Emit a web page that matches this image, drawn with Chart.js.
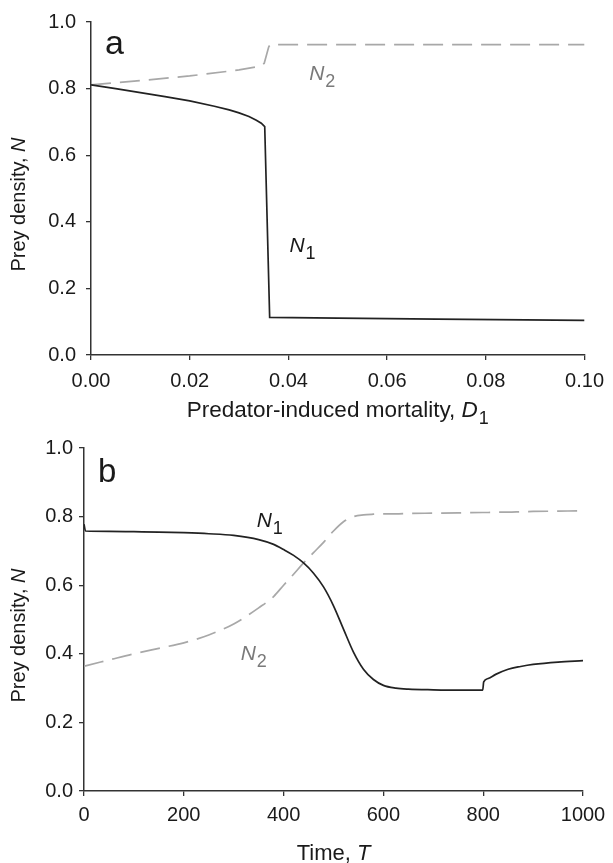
<!DOCTYPE html>
<html>
<head>
<meta charset="utf-8">
<script src="https://cdn.jsdelivr.net/npm/chart.js"></script>
<style>
    html, body { margin: 0; padding: 0; background: #fff; }
    #wrap { position: relative; width: 613px; height: 863px; }
    canvas { position: absolute; left: 0; }
    #chartA { top: 0; }
    #chartB { top: 430px; }
</style>
</head>
<body>
<div id="wrap">
    <canvas id="chartA" width="613" height="430"></canvas>
    <canvas id="chartB" width="613" height="433"></canvas>
</div>
<script>
// Panel a: prey density against predator-induced mortality D1
const mortalityN1 = [0, 0.005, 0.01, 0.015, 0.02, 0.025, 0.028, 0.03, 0.032, 0.0335, 0.0345, 0.0352, 0.0362, 0.05, 0.07, 0.1];
const preyN1a     = [0.811, 0.800, 0.788, 0.776, 0.763, 0.747, 0.736, 0.727, 0.716, 0.705, 0.696, 0.686, 0.113, 0.111, 0.108, 0.104];
const mortalityN2 = [0, 0.01, 0.02, 0.03, 0.0345, 0.0351, 0.036, 0.0363, 0.1];
const preyN2a     = [0.811, 0.824, 0.838, 0.856, 0.868, 0.876, 0.925, 0.932, 0.932];
const mortalityTicks = [0, 0.02, 0.04, 0.06, 0.08, 0.1];

// Panel b: prey density over time T
const timeT   = [0, 3, 50, 100, 150, 200, 250, 300, 350, 380, 400, 420, 440, 460, 480, 500, 520, 540, 560, 580, 600, 625, 650, 700, 750, 799, 801, 810, 825, 850, 875, 900, 950, 1000];
const preyN1b = [0.778, 0.758, 0.757, 0.756, 0.755, 0.753, 0.750, 0.745, 0.733, 0.719, 0.704, 0.687, 0.665, 0.635, 0.595, 0.540, 0.472, 0.405, 0.355, 0.325, 0.308, 0.300, 0.297, 0.295, 0.294, 0.294, 0.318, 0.328, 0.340, 0.355, 0.363, 0.369, 0.376, 0.380];
const preyN2b = [0.364, 0.365, 0.382, 0.400, 0.416, 0.432, 0.455, 0.487, 0.534, 0.567, 0.600, 0.632, 0.665, 0.695, 0.725, 0.758, 0.785, 0.800, 0.805, 0.807, 0.808, 0.808, 0.809, 0.810, 0.811, 0.812, 0.812, 0.812, 0.813, 0.813, 0.814, 0.815, 0.816, 0.817];
const timeTicks = [0, 200, 400, 600, 800, 1000];

const densityTicks = [0, 0.2, 0.4, 0.6, 0.8, 1.0];

const FONT = "'Liberation Sans', Arial, sans-serif";
const INK = '#1a1a1a';
const AXIS = '#333333';
const DASH_GREY = '#a8a8a8';
const LABEL_GREY = '#7a7a7a';

function toPoints(xs, ys) {
    return xs.map((x, i) => ({ x: x, y: ys[i] }));
}

// Draw a row of text pieces (italic letters, subscripts) one after another
function drawPieces(ctx, pieces, x, y, align) {
    let total = 0;
    pieces.forEach(p => {
        ctx.font = p.font;
        total += ctx.measureText(p.text).width + (p.gap || 0);
    });
    let cx = align === 'center' ? x - total / 2 : x;
    pieces.forEach(p => {
        ctx.font = p.font;
        ctx.fillStyle = p.color || INK;
        cx += p.gap || 0;
        ctx.fillText(p.text, cx, y + (p.dy || 0));
        cx += ctx.measureText(p.text).width;
    });
}

function nameWithSub(letter, sub, color, size) {
    return [
        { text: letter, font: 'italic ' + size + 'px ' + FONT, color: color },
        { text: sub, font: (size - 3) + 'px ' + FONT, color: color, dy: 7, gap: 1 }
    ];
}

// Plugin for axis titles, panel letters and curve names
const richLabels = {
    id: 'richLabels',
    afterDraw(chart, args, opts) {
        const ctx = chart.ctx;
        const area = chart.chartArea;
        ctx.save();
        ctx.textBaseline = 'alphabetic';

        // panel letter
        ctx.font = opts.letterSize + 'px ' + FONT;
        ctx.fillStyle = INK;
        ctx.fillText(opts.letter, area.left + opts.letterPos[0], area.top + opts.letterPos[1]);

        // x title
        drawPieces(ctx, opts.xTitle, (area.left + area.right) / 2, area.bottom + opts.xTitleOffset, 'center');

        // y title, rotated
        ctx.save();
        ctx.translate(opts.yTitleX, (area.top + area.bottom) / 2 + opts.yTitleShift);
        ctx.rotate(-Math.PI / 2);
        ctx.textBaseline = 'middle';
        drawPieces(ctx, [
            { text: 'Prey density, ', font: '20px ' + FONT },
            { text: 'N', font: 'italic 20px ' + FONT }
        ], 0, 0, 'center');
        ctx.restore();

        // curve names placed in data coordinates
        opts.names.forEach(n => {
            const px = chart.scales.x.getPixelForValue(n.x);
            const py = chart.scales.y.getPixelForValue(n.y);
            drawPieces(ctx, nameWithSub('N', n.sub, n.color, 21), px, py, 'left');
        });
        ctx.restore();
    }
};

function axisStyle(tickValues, digits, padding) {
    return {
        type: 'linear',
        min: tickValues[0],
        max: tickValues[tickValues.length - 1],
        afterBuildTicks: scale => {
            scale.ticks = tickValues.map(v => ({ value: v }));
        },
        grid: {
            display: true,
            drawOnChartArea: false,
            drawTicks: true,
            tickLength: 5,
            color: AXIS,
            lineWidth: 1.3
        },
        border: { display: true, color: AXIS, width: 1.5 },
        ticks: {
            padding: padding,
            color: INK,
            font: { family: FONT, size: 20 },
            callback: value => digits === null ? String(value) : Number(value).toFixed(digits)
        }
    };
}

function makeChart(id, cfg) {
    const ctx = document.getElementById(id).getContext('2d');
    const xAxis = axisStyle(cfg.xTicks, cfg.xDigits, cfg.xPad);
    xAxis.afterFit = scale => { scale.height = cfg.xHeight; };
    const yAxis = axisStyle(densityTicks, 1, cfg.yPad);
    yAxis.afterFit = scale => { scale.width = cfg.yWidth; };

    return new Chart(ctx, {
        type: 'line',
        data: {
            datasets: [
                {
                    label: 'N1',
                    data: cfg.n1,
                    borderColor: '#222222',
                    borderWidth: 1.7,
                    pointRadius: 0,
                    tension: 0,
                    cubicInterpolationMode: cfg.curve,
                    fill: false
                },
                {
                    label: 'N2',
                    data: cfg.n2,
                    borderColor: DASH_GREY,
                    borderWidth: 1.7,
                    borderDash: [20, 9],
                    pointRadius: 0,
                    tension: 0,
                    cubicInterpolationMode: cfg.curve,
                    fill: false
                }
            ]
        },
        options: {
            responsive: false,
            animation: false,
            devicePixelRatio: 1,
            layout: { padding: { left: 0, right: cfg.padRight, top: cfg.padTop, bottom: 0 } },
            plugins: {
                legend: { display: false },
                tooltip: { enabled: false },
                richLabels: cfg.labels
            },
            scales: { x: xAxis, y: yAxis }
        },
        plugins: [richLabels]
    });
}

makeChart('chartA', {
    n1: toPoints(mortalityN1, preyN1a),
    n2: toPoints(mortalityN2, preyN2a),
    curve: 'default',
    xTicks: mortalityTicks,
    xDigits: 2,
    xPad: 9,
    yPad: 10,
    xHeight: 75,
    yWidth: 91,
    padRight: 26,
    padTop: 20,
    labels: {
        letter: 'a',
        letterSize: 34,
        letterPos: [14, 32],
        xTitle: [
            { text: 'Predator-induced mortality, ', font: '22.5px ' + FONT },
            { text: 'D', font: 'italic 22.5px ' + FONT },
            { text: '1', font: '18px ' + FONT, dy: 7, gap: 1 }
        ],
        xTitleOffset: 62,
        yTitleX: 19,
        yTitleShift: 16,
        names: [
            { x: 0.0402, y: 0.308, sub: '1', color: INK },
            { x: 0.0442, y: 0.826, sub: '2', color: LABEL_GREY }
        ]
    }
});

makeChart('chartB', {
    n1: toPoints(timeT, preyN1b),
    n2: toPoints(timeT, preyN2b),
    curve: 'monotone',
    xTicks: timeTicks,
    xDigits: null,
    xPad: 7,
    yPad: 6,
    xHeight: 72,
    yWidth: 84,
    padRight: 30,
    padTop: 18,
    labels: {
        letter: 'b',
        letterSize: 33,
        letterPos: [14, 34],
        xTitle: [
            { text: 'Time, ', font: '22px ' + FONT },
            { text: 'T', font: 'italic 22px ' + FONT }
        ],
        xTitleOffset: 69,
        yTitleX: 19,
        yTitleShift: 16,
        names: [
            { x: 346, y: 0.770, sub: '1', color: INK },
            { x: 314, y: 0.381, sub: '2', color: LABEL_GREY }
        ]
    }
});
</script>
</body>
</html>
